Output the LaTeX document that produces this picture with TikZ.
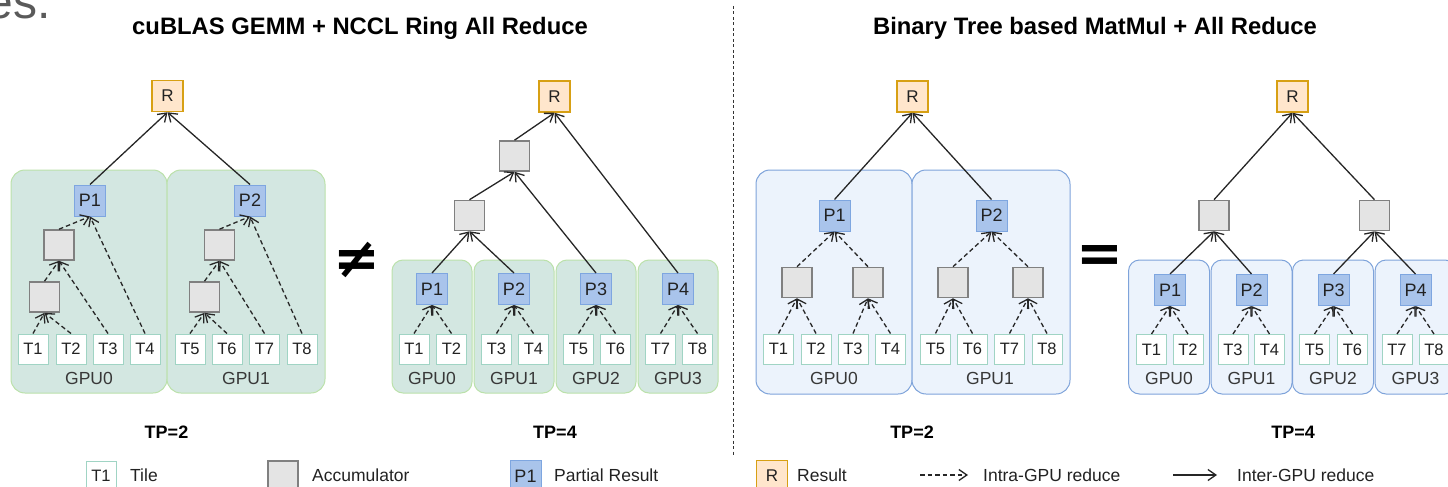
\documentclass[tikz,border=0pt]{standalone}
\usepackage{fontspec}
\setmainfont{Liberation Sans}
\newfontfamily\symfont{DejaVu Sans}
\usetikzlibrary{arrows.meta}

\definecolor{gpugreenfill}{RGB}{211,231,225}
\definecolor{gpugreenline}{RGB}{187,225,170}
\definecolor{gpubluefill}{RGB}{236,243,252}
\definecolor{gpublueline}{RGB}{126,163,218}
\definecolor{tileline}{RGB}{160,212,196}
\definecolor{pfill}{RGB}{169,196,235}
\definecolor{pline}{RGB}{126,166,224}
\definecolor{rfill}{RGB}{255,230,204}
\definecolor{rline}{RGB}{215,160,20}
\definecolor{accfill}{RGB}{228,228,228}
\definecolor{accline}{RGB}{128,128,128}
\definecolor{inktext}{RGB}{34,34,34}
\definecolor{fragtext}{RGB}{90,90,90}

\tikzset{
  box/.style={inner sep=0pt, text=inktext},
  tile/.style={box, draw=tileline, fill=white, line width=1pt,
    minimum width=30pt, minimum height=30pt, font=\fontsize{16.5}{18}\selectfont},
  part/.style={box, draw=pline, fill=pfill, line width=1pt,
    minimum width=31pt, minimum height=31pt, font=\fontsize{18}{20}\selectfont},
  res/.style={box, draw=rline, fill=rfill, line width=1.5pt,
    minimum width=31pt, minimum height=31pt, font=\fontsize{17}{19}\selectfont},
  acc/.style={box, draw=accline, fill=accfill, line width=1.6pt,
    minimum width=30pt, minimum height=30pt},
  gpugreen/.style={draw=gpugreenline, fill=gpugreenfill, line width=1pt, rounded corners=14pt},
  gpublue/.style={draw=gpublueline, fill=gpubluefill, line width=1pt, rounded corners=14pt},
  gpulabel/.style={inner sep=0pt, text=inktext!90, font=\fontsize{17.5}{19}\selectfont},
  title/.style={inner sep=0pt, font=\bfseries\fontsize{23.8}{27}\selectfont},
  tplabel/.style={inner sep=0pt, font=\bfseries\fontsize{18}{20}\selectfont},
  legtext/.style={inner sep=0pt, anchor=west, text=inktext, font=\fontsize{17.5}{20}\selectfont},
  link/.style={draw=black!85, line width=1.3pt, -{Straight Barb[length=8pt,width=11pt,line width=1.3pt]}},
  intra/.style={link, dash pattern=on 4.5pt off 3pt},
  inter/.style={link},
  relsign/.style={inner sep=0pt, font=\symfont\bfseries\fontsize{56}{60}\selectfont}
}

\begin{document}
\begin{tikzpicture}[x=1pt, y=-1pt]
\useasboundingbox (0,0) rectangle (1448,487);

% leftover slide text at the top corner
\node[anchor=base east, inner sep=0pt, text=fragtext, font=\fontsize{48}{50}\selectfont] (frag) at (51,19) {es.};

% section titles and separator
\node[title] (titleA) at (360,28) {cuBLAS GEMM + NCCL Ring All Reduce};
\node[title] (titleB) at (1095,28) {Binary Tree based MatMul + All Reduce};
\coordinate (sepTop) at (733.5,6);
\coordinate (sepBot) at (733.5,455);
\draw[black!80, line width=1pt, dash pattern=on 3pt off 2.5pt] (sepTop) -- (sepBot);

% ================= cuBLAS GEMM, TP=2 =================
\node[gpugreen, minimum width=156pt, minimum height=223pt] (a-g0) at (89,281.5) {};
\node[gpugreen, minimum width=158pt, minimum height=223pt] (a-g1) at (246,281.5) {};
\node[gpulabel] (a-n0) at (89,378) {GPU0};
\node[gpulabel] (a-n1) at (246,378) {GPU1};
\node[res] (a-r) at (167.5,96) {R};
\node[part] (a-p1) at (90,200.5) {P1};
\node[part] (a-p2) at (250,200.5) {P2};
\node[acc] (a-u0) at (59,245) {};
\node[acc] (a-l0) at (44.5,297) {};
\node[acc] (a-u1) at (219.5,245) {};
\node[acc] (a-l1) at (204.5,297) {};
\foreach \n/\x in {1/33,2/71,3/108,4/145,5/190,6/227,7/264.5,8/302}
  \node[tile] (a-t\n) at (\x,349) {T\n};
\draw[intra] (a-t1.north) -- (a-l0.south);
\draw[intra] (a-t2.north) -- (a-l0.south);
\draw[intra] (a-l0.north) -- (a-u0.south);
\draw[intra] (a-t3.north) -- (a-u0.south);
\draw[intra] (a-u0.north) -- (a-p1.south);
\draw[intra] (a-t4.north) -- (a-p1.south);
\draw[intra] (a-t5.north) -- (a-l1.south);
\draw[intra] (a-t6.north) -- (a-l1.south);
\draw[intra] (a-l1.north) -- (a-u1.south);
\draw[intra] (a-t7.north) -- (a-u1.south);
\draw[intra] (a-u1.north) -- (a-p2.south);
\draw[intra] (a-t8.north) -- (a-p2.south);
\draw[inter] (a-p1.north) -- (a-r.south);
\draw[inter] (a-p2.north) -- (a-r.south);
\node[tplabel] (a-tp) at (166.5,432) {TP=2};

\node[relsign] (neq) at (357,260) {≠};

% ================= cuBLAS GEMM, TP=4 =================
\foreach \g/\x in {0/432,1/514,2/596,3/678} {
  \node[gpugreen, rounded corners=11pt, minimum width=80pt, minimum height=133pt] (b-g\g) at (\x,326.5) {};
  \node[gpulabel] (b-n\g) at (\x,378) {GPU\g};
}
\node[res] (b-r) at (554.5,96.5) {R};
\node[acc] (b-u) at (514.5,156) {};
\node[acc] (b-l) at (469.5,215.5) {};
\foreach \n/\x in {1/432,2/514,3/596,4/678}
  \node[part] (b-p\n) at (\x,289) {P\n};
\foreach \n/\x in {1/414,2/451.5,3/496.5,4/533.5,5/578.5,6/615.5,7/660.5,8/697.5}
  \node[tile] (b-t\n) at (\x,349) {T\n};
\draw[intra] (b-t1.north) -- (b-p1.south);
\draw[intra] (b-t2.north) -- (b-p1.south);
\draw[intra] (b-t3.north) -- (b-p2.south);
\draw[intra] (b-t4.north) -- (b-p2.south);
\draw[intra] (b-t5.north) -- (b-p3.south);
\draw[intra] (b-t6.north) -- (b-p3.south);
\draw[intra] (b-t7.north) -- (b-p4.south);
\draw[intra] (b-t8.north) -- (b-p4.south);
\draw[inter] (b-p1.north) -- (b-l.south);
\draw[inter] (b-p2.north) -- (b-l.south);
\draw[inter] (b-l.north) -- (b-u.south);
\draw[inter] (b-p3.north) -- (b-u.south);
\draw[inter] (b-u.north) -- (b-r.south);
\draw[inter] (b-p4.north) -- (b-r.south);
\node[tplabel] (b-tp) at (555,432) {TP=4};

% ================= Binary tree, TP=2 =================
\node[gpublue, minimum width=156pt, minimum height=224pt] (c-g0) at (834,282) {};
\node[gpublue, minimum width=158pt, minimum height=224pt] (c-g1) at (991,282) {};
\node[gpulabel] (c-n0) at (834,378) {GPU0};
\node[gpulabel] (c-n1) at (990,378) {GPU1};
\node[res] (c-r) at (912.5,96.5) {R};
\node[part] (c-p1) at (834.5,215.5) {P1};
\node[part] (c-p2) at (991.5,215.5) {P2};
\foreach \n/\x in {1/797,2/868,3/953,4/1028}
  \node[acc] (c-a\n) at (\x,282.5) {};
\foreach \n/\x in {1/778.5,2/816,3/853,4/890.5,5/935.5,6/972.5,7/1009.5,8/1047}
  \node[tile] (c-t\n) at (\x,349) {T\n};
\draw[intra] (c-t1.north) -- (c-a1.south);
\draw[intra] (c-t2.north) -- (c-a1.south);
\draw[intra] (c-t3.north) -- (c-a2.south);
\draw[intra] (c-t4.north) -- (c-a2.south);
\draw[intra] (c-t5.north) -- (c-a3.south);
\draw[intra] (c-t6.north) -- (c-a3.south);
\draw[intra] (c-t7.north) -- (c-a4.south);
\draw[intra] (c-t8.north) -- (c-a4.south);
\draw[intra] (c-a1.north) -- (c-p1.south);
\draw[intra] (c-a2.north) -- (c-p1.south);
\draw[intra] (c-a3.north) -- (c-p2.south);
\draw[intra] (c-a4.north) -- (c-p2.south);
\draw[inter] (c-p1.north) -- (c-r.south);
\draw[inter] (c-p2.north) -- (c-r.south);
\node[tplabel] (c-tp) at (912,432) {TP=2};

\node[relsign] (eq) at (1100,259) {=};

% ================= Binary tree, TP=4 =================
\foreach \g/\x in {0/1169,1/1251.5,2/1333,3/1415.5} {
  \node[gpublue, rounded corners=11pt, minimum width=81pt, minimum height=134pt] (d-g\g) at (\x,327) {};
  \node[gpulabel] (d-n\g) at (\x,378) {GPU\g};
}
\node[res] (d-r) at (1292.5,96.5) {R};
\node[acc] (d-a1) at (1214,215.5) {};
\node[acc] (d-a2) at (1374.5,215.5) {};
\foreach \n/\x in {1/1170,2/1251.5,3/1333.5,4/1415.5}
  \node[part] (d-p\n) at (\x,290) {P\n};
\foreach \n/\x in {1/1151.5,2/1188,3/1233,4/1269.5,5/1314.5,6/1352.5,7/1397,8/1434}
  \node[tile] (d-t\n) at (\x,349.5) {T\n};
\draw[intra] (d-t1.north) -- (d-p1.south);
\draw[intra] (d-t2.north) -- (d-p1.south);
\draw[intra] (d-t3.north) -- (d-p2.south);
\draw[intra] (d-t4.north) -- (d-p2.south);
\draw[intra] (d-t5.north) -- (d-p3.south);
\draw[intra] (d-t6.north) -- (d-p3.south);
\draw[intra] (d-t7.north) -- (d-p4.south);
\draw[intra] (d-t8.north) -- (d-p4.south);
\draw[inter] (d-p1.north) -- (d-a1.south);
\draw[inter] (d-p2.north) -- (d-a1.south);
\draw[inter] (d-p3.north) -- (d-a2.south);
\draw[inter] (d-p4.north) -- (d-a2.south);
\draw[inter] (d-a1.north) -- (d-r.south);
\draw[inter] (d-a2.north) -- (d-r.south);
\node[tplabel] (d-tp) at (1293,432) {TP=4};

% ================= legend =================
\node[tile] (lg-t) at (101,476) {T1};
\node[legtext] (lg-tt) at (130,475) {Tile};
\node[acc] (lg-a) at (283,476) {};
\node[legtext] (lg-at) at (312,475) {Accumulator};
\node[part] (lg-p) at (525.5,476) {P1};
\node[legtext] (lg-pt) at (554,475) {Partial Result};
\node[res] (lg-r) at (772,476) {R};
\node[legtext] (lg-rt) at (797,475) {Result};
\coordinate (lg-d1) at (920,475);
\coordinate (lg-d2) at (968,475);
\draw[intra] (lg-d1) -- (lg-d2);
\node[legtext] (lg-dt) at (983,475) {Intra-GPU reduce};
\coordinate (lg-s1) at (1173,475);
\coordinate (lg-s2) at (1217,475);
\draw[inter] (lg-s1) -- (lg-s2);
\node[legtext] (lg-st) at (1237,475) {Inter-GPU reduce};
\end{tikzpicture}
\end{document}
